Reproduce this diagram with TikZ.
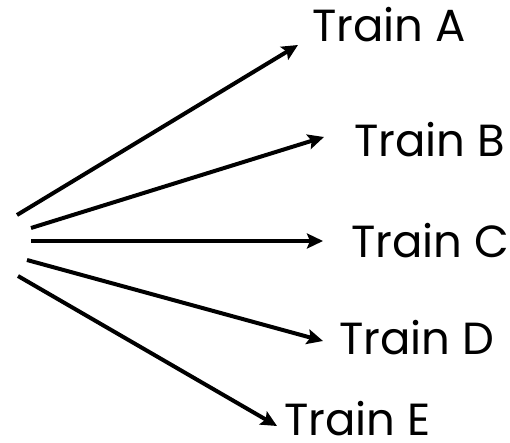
\documentclass[tikz,border=0pt]{standalone}
\usepackage{fontspec}
\setmainfont{Poppins}
\usetikzlibrary{arrows.meta}
\begin{document}
\begin{tikzpicture}[x=1pt,y=-1pt,
  lbl/.style={anchor=base west,inner sep=0pt,font=\fontsize{45}{45}\selectfont},
  arr/.style={line width=4pt,-{Stealth[length=16pt,width=15pt,inset=3pt]}}]
\useasboundingbox (0,0) rectangle (510,443);
\node[lbl] (ta) at (312,42) {Train A};
\node[lbl] (tb) at (354,157) {Train B};
\node[lbl] (tc) at (351,257) {Train C};
\node[lbl] (td) at (339,354) {Train D};
\node[lbl] (te) at (284,435) {Train E};
\coordinate (sa) at (17,215);
\coordinate (sb) at (31,228);
\coordinate (sc) at (31,241);
\coordinate (sd) at (27,260);
\coordinate (se) at (18,276);
\coordinate (ea) at (298,45);
\coordinate (eb) at (324,137);
\coordinate (ec) at (323,241);
\coordinate (ed) at (323,341);
\coordinate (ee) at (277,426);
\draw[arr] (sa) -- (ea);
\draw[arr] (sb) -- (eb);
\draw[arr] (sc) -- (ec);
\draw[arr] (sd) -- (ed);
\draw[arr] (se) -- (ee);
\end{tikzpicture}
\end{document}
